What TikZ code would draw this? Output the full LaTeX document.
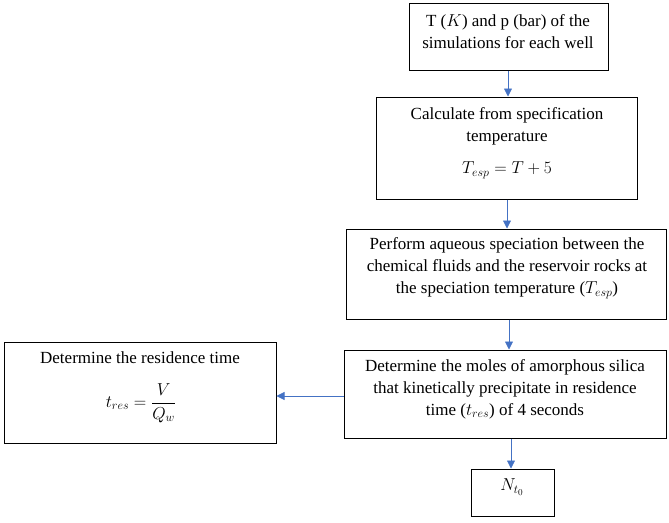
\documentclass[tikz,border=0pt]{standalone}
\usepackage{fontspec}
\setmainfont{Liberation Serif}
\usetikzlibrary{arrows.meta}
\definecolor{arrblue}{HTML}{4472C4}
\begin{document}
\begin{tikzpicture}[x=1pt,y=-1pt,
  boxnode/.style={draw=black,line width=1pt,rectangle,inner sep=0pt},
  txt/.style={align=center,inner sep=0pt,font=\fontsize{17}{22}\selectfont},
  conn/.style={draw=arrblue,line width=0.8pt,-{Triangle[length=8pt,width=8pt]}}]
\useasboundingbox (0,0) rectangle (669,522);
% boxes
\node[boxnode,minimum width=199pt,minimum height=67pt] (b1) at (508.5,36.5) {};
\node[boxnode,minimum width=261pt,minimum height=102pt] (b2) at (506.5,148) {};
\node[boxnode,minimum width=320pt,minimum height=90pt] (b3) at (506,274) {};
\node[boxnode,minimum width=322pt,minimum height=88pt] (b4) at (505,394) {};
\node[boxnode,minimum width=272pt,minimum height=101pt] (b5) at (140,392.5) {};
\node[boxnode,minimum width=83pt,minimum height=47pt] (b6) at (512.5,492.5) {};
% texts
\node[txt] (t1) at (508,31.5) {T ($K$) and p (bar) of the\\simulations for each well};
\node[txt] (t2) at (507,126) {Calculate from specification\\temperature};
\node[txt,font=\fontsize{18}{22}\selectfont] (e2) at (507,170) {$T_{esp}=T+5$};
\node[txt] (t3) at (507,268) {Perform aqueous speciation between the\\chemical fluids and the reservoir rocks at\\the speciation temperature ($T_{esp}$)};
\node[txt] (t4) at (505,389) {Determine the moles of amorphous silica\\that kinetically precipitate in residence\\time ($t_{res}$) of 4 seconds};
\node[txt] (t5) at (140,358) {Determine the residence time};
\node[txt,font=\fontsize{18}{22}\selectfont] (e5) at (141,403) {$\displaystyle t_{res}=\frac{V}{Q_w}$};
\node[txt,font=\fontsize{18}{22}\selectfont] (t6) at (512,487) {$N_{t_0}$};
% connectors
\draw[conn] (b1.south -| 508,0) -- (b2.north -| 508,0);
\draw[conn] (b2.south -| 507,0) -- (b3.north -| 507,0);
\draw[conn] (b3.south -| 509,0) -- (b4.north -| 509,0);
\draw[conn] (b4.west |- 0,396) -- (b5.east |- 0,396);
\draw[conn] (b4.south -| 511,0) -- (b6.north -| 511,0);
\end{tikzpicture}
\end{document}
